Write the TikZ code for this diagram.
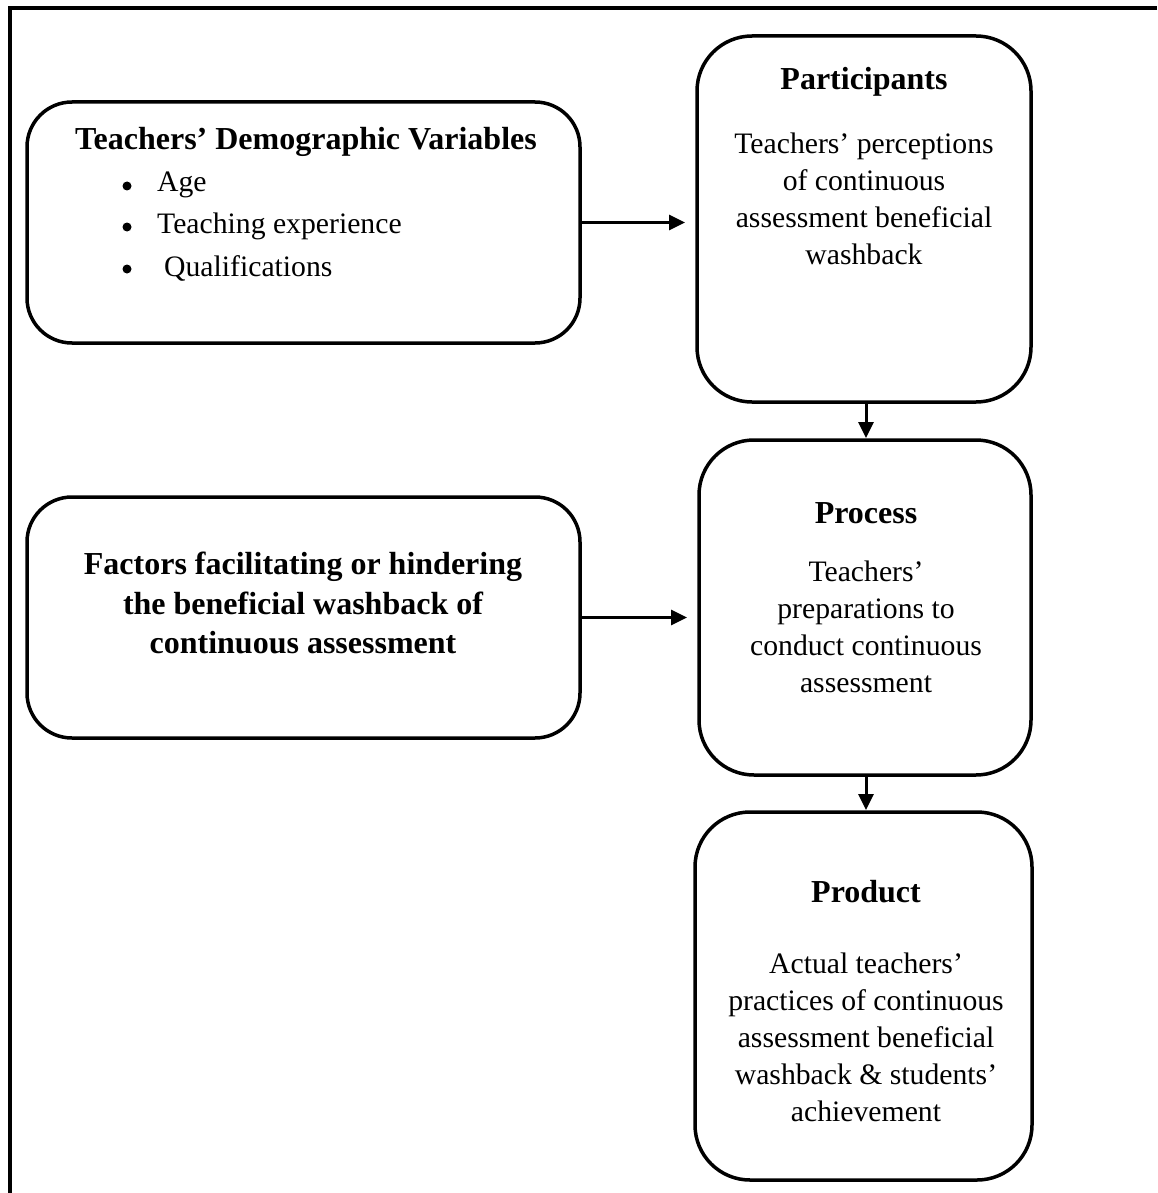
\documentclass[tikz,border=0pt]{standalone}
\usepackage{fontspec}
\setmainfont{Liberation Serif}
\usetikzlibrary{arrows.meta}
\tikzset{
  boxL/.style={draw, line width=3.5pt, rounded corners=45pt, inner sep=0pt, outer sep=0pt},
  boxR/.style={draw, line width=3.5pt, rounded corners=55pt, inner sep=0pt, outer sep=0pt},
  txt/.style={inner sep=0pt, font=\fontsize{29.7}{37}\selectfont},
  bul/.style={circle, fill=black, inner sep=0pt, minimum size=9pt},
  ttl/.style={inner sep=0pt, font=\fontsize{32}{39.5}\selectfont\bfseries},
  arr/.style={line width=3pt, -{Triangle[length=16pt,width=15pt]}}
}
\begin{document}
\begin{tikzpicture}[x=1pt,y=-1pt]
\useasboundingbox (0,0) rectangle (1157,1193);
\draw[line width=3.5pt] (10,1193) -- (10,8) -- (1157,8);

% boxes
\node[boxL, minimum width=553pt, minimum height=241pt] (demo) at (303.5,222.5) {};
\node[boxL, minimum width=553pt, minimum height=241pt] (fact) at (303.5,617.5) {};
\node[boxR, minimum width=334pt, minimum height=366pt] (part) at (864,219) {};
\node[boxR, minimum width=332pt, minimum height=335pt] (proc) at (865,607.5) {};
\node[boxR, minimum width=337pt, minimum height=368pt] (prod) at (863.5,996) {};

% demographics
\node[ttl] (demot) at (306,142) {Teachers’ Demographic Variables};
\node[bul] (bu1) at (127,186) {};
\node[bul] (bu2) at (127,227) {};
\node[bul] (bu3) at (127,269) {};
\node[txt, anchor=west] (age) at (157,185) {Age};
\node[txt, anchor=west] (exp) at (157,226) {Teaching experience};
\node[txt, anchor=west] (qual) at (164,268) {Qualifications};

% factors
\node[ttl, align=center] (factt) at (303,603) {Factors facilitating or hindering\\the beneficial washback of\\continuous assessment};

% participants
\node[ttl] (partt) at (864,82) {Participants};
\node[txt, align=center] (partb) at (864,199) {Teachers’ perceptions\\of continuous\\assessment beneficial\\washback};

% process
\node[ttl] (proct) at (866,513) {Process};
\node[txt, align=center] (procb) at (866,627) {Teachers’\\preparations to\\conduct continuous\\assessment};

% product
\node[ttl] (prodt) at (866,892) {Product};
\node[txt, align=center] (prodb) at (866,1037) {Actual teachers’\\practices of continuous\\assessment beneficial\\washback \& students’\\achievement};

% connectors
\draw[arr, shorten >=12pt] (demo.east) -- (demo.east -| part.west);
\draw[arr, shorten >=12pt] (fact.east) -- (fact.east -| proc.west);
\draw[arr, shorten >=2pt] ([xshift=2pt]part.south) -- ([xshift=2pt]part.south |- proc.north);
\draw[arr, shorten >=2pt] ([xshift=1pt]proc.south) -- ([xshift=1pt]proc.south |- prod.north);
\end{tikzpicture}
\end{document}
